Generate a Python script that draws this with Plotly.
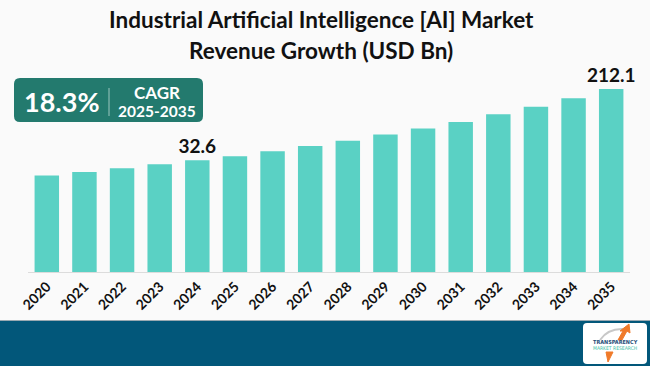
import plotly.graph_objects as go

years = ["2020", "2021", "2022", "2023", "2024", "2025", "2026", "2027",
         "2028", "2029", "2030", "2031", "2032", "2033", "2034", "2035"]
revenue = [21.8, 23.9, 26.4, 29.3, 32.6, 36.2, 41.3, 47.2,
           54.2, 64.2, 75.2, 88.8, 108.8, 133.0, 166.0, 212.1]
labelled_years = ["2024", "2035"]
title_lines = ["Industrial Artificial Intelligence [AI] Market", "Revenue Growth (USD Bn)"]
cagr_value = "18.3%"
cagr_label = "CAGR"
cagr_period = "2025-2035"

bar_text = [f"{v}" if y in labelled_years else "" for y, v in zip(years, revenue)]

FONT = "Lato"
fig = go.Figure()
fig.add_trace(go.Bar(
    x=years, y=revenue, text=bar_text, textposition="outside",
    constraintext="none",
    textfont=dict(family=FONT, size=19, color="#111111", weight="bold"),
    marker=dict(color="#5ad1c4", line=dict(width=0)),
    cliponaxis=False, hoverinfo="skip",
))

fig.update_layout(
    width=650, height=366,
    margin=dict(l=28, r=20, t=80, b=94, autoexpand=False),
    paper_bgcolor="#fafafa", plot_bgcolor="#fafafa",
    bargap=0.35, showlegend=False,
    font=dict(family=FONT, color="#111111"),
    xaxis=dict(type="category", tickangle=-45, showgrid=False, automargin=False,
               showline=True, linecolor="#dcdcdc", linewidth=1,
               ticks="", tickfont=dict(family=FONT, size=14, color="#111111", weight="bold")),
    yaxis=dict(type="log", range=[0.2337, 2.4297], visible=False, showgrid=False,
               automargin=False),
)

PH = 366 - 80 - 94
PW = 650 - 28 - 20
def py(y):
    return (366 - 94 - y) / PH
def px(x):
    return (x - 28) / PW

# Title
for i, yy in enumerate([19, 50]):
    fig.add_annotation(xref="paper", yref="paper", x=px(321), y=py(yy),
                       xanchor="center", yanchor="middle",
                       text="<b>" + title_lines[i] + "</b>", showarrow=False,
                       font=dict(family=FONT, size=22.5, color="#111111"))

# CAGR box
fig.add_shape(type="path", xref="paper", yref="paper",
              path=(f"M {px(20)},{py(78)} L {px(197)},{py(78)} "
                    f"Q {px(203)},{py(78)} {px(203)},{py(84)} L {px(203)},{py(116)} "
                    f"Q {px(203)},{py(122)} {px(197)},{py(122)} L {px(20)},{py(122)} "
                    f"Q {px(14)},{py(122)} {px(14)},{py(116)} L {px(14)},{py(84)} "
                    f"Q {px(14)},{py(78)} {px(20)},{py(78)} Z"),
              fillcolor="#237a6e", line=dict(width=0), layer="above")
fig.add_shape(type="line", xref="paper", yref="paper",
              x0=px(109), x1=px(109), y0=py(88), y1=py(116),
              line=dict(color="#9cc6bf", width=1), layer="above")
fig.add_annotation(xref="paper", yref="paper", x=px(62), y=py(101),
                   text="<b>" + cagr_value + "</b>", showarrow=False,
                   xanchor="center", yanchor="middle",
                   font=dict(family=FONT, size=27, color="white"))
fig.add_annotation(xref="paper", yref="paper", x=px(157), y=py(92),
                   text="<b>" + cagr_label + "</b>", showarrow=False,
                   xanchor="center", yanchor="middle",
                   font=dict(family=FONT, size=17, color="white"))
fig.add_annotation(xref="paper", yref="paper", x=px(157), y=py(111),
                   text="<b>" + cagr_period + "</b>", showarrow=False,
                   xanchor="center", yanchor="middle",
                   font=dict(family=FONT, size=15.5, color="white"))

# Bottom band
fig.add_shape(type="rect", xref="paper", yref="paper",
              x0=px(0), x1=px(650), y0=py(366), y1=py(321),
              fillcolor="#02577a", line=dict(width=0), layer="above")
fig.add_shape(type="line", xref="paper", yref="paper",
              x0=px(0), x1=px(650), y0=py(320.5), y1=py(320.5),
              line=dict(color="#9aa9b2", width=1), layer="above")
# Logo
fig.add_shape(type="path", xref="paper", yref="paper",
              path=(f"M {px(587)},{py(323)} L {px(643)},{py(323)} "
                    f"Q {px(647)},{py(323)} {px(647)},{py(327)} L {px(647)},{py(360)} "
                    f"Q {px(647)},{py(364)} {px(643)},{py(364)} L {px(587)},{py(364)} "
                    f"Q {px(583)},{py(364)} {px(583)},{py(360)} L {px(583)},{py(327)} "
                    f"Q {px(583)},{py(323)} {px(587)},{py(323)} Z"),
              fillcolor="#ffffff", line=dict(width=0), layer="above")
fig.add_shape(type="path", xref="paper", yref="paper",
              path=f"M {px(600)},{py(340)} Q {px(608)},{py(328)} {px(624)},{py(329)}",
              line=dict(color="#c8c8c8", width=2), layer="above")
fig.add_shape(type="path", xref="paper", yref="paper",
              path=f"M {px(618)},{py(340)} L {px(623)},{py(331)} L {px(620)},{py(331)} L {px(629)},{py(324)} L {px(630)},{py(333)} L {px(627)},{py(331)} L {px(622)},{py(340)} Z",
              fillcolor="#f07a2a", line=dict(color="#f07a2a", width=1), layer="above")
fig.add_shape(type="path", xref="paper", yref="paper",
              path=f"M {px(606)},{py(352)} L {px(613)},{py(352)} L {px(608)},{py(362)} Z",
              fillcolor="#f07a2a", line=dict(color="#f07a2a", width=1), layer="above")
fig.add_annotation(xref="paper", yref="paper", x=px(615), y=py(342),
                   text="<b>TRANSPARENCY</b>", showarrow=False,
                   xanchor="center", yanchor="middle",
                   font=dict(family="DejaVu Sans Condensed", size=5.5, color="#1f4e79"))
fig.add_annotation(xref="paper", yref="paper", x=px(615), y=py(348),
                   text="MARKET RESEARCH", showarrow=False,
                   xanchor="center", yanchor="middle",
                   font=dict(family="DejaVu Sans Condensed", size=5, color="#3fbfa8"))

fig.write_html("out.html", config={"displayModeBar": False},
               post_script="document.body.style.margin='0';document.body.style.padding='0';document.body.style.overflow='hidden';")
